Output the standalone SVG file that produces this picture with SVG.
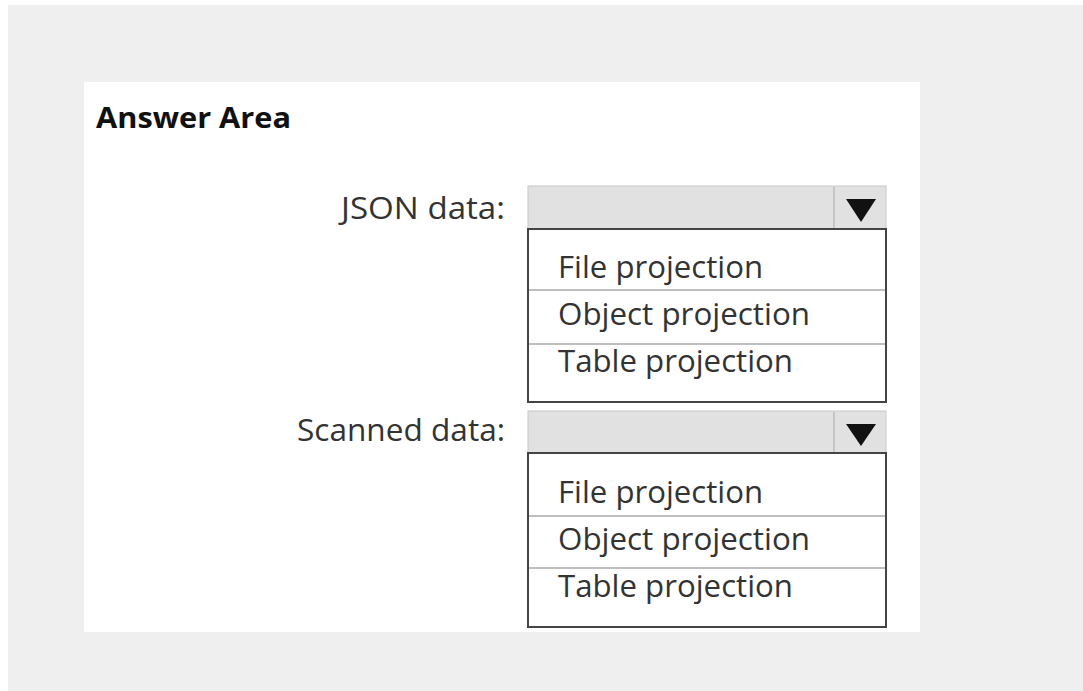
<svg xmlns="http://www.w3.org/2000/svg" width="1083" height="691" viewBox="0 0 1083 691">
<style>
.lbl{font-family:"Open Sans","Noto Sans","Liberation Sans",sans-serif;font-size:31px;fill:#333;}
.opt{font-family:"Open Sans","Noto Sans","Liberation Sans",sans-serif;font-size:31px;fill:#333;}
.hdr{fill:#e1e1e1;stroke:#c8c8c8;stroke-width:1;}
.box{fill:#fff;stroke:#444;stroke-width:2;}
.sep{stroke:#aaa;stroke-width:1.5;}
</style>
<rect x="0" y="0" width="1083" height="691" fill="#ffffff"/>
<rect x="8" y="5" width="1075" height="686" fill="#efefef"/>
<rect x="84" y="82" width="836" height="550" fill="#ffffff"/>
<text x="96" y="128" font-family="'Open Sans','Noto Sans','Liberation Sans',sans-serif" font-size="29" font-weight="bold" fill="#111" textLength="195" lengthAdjust="spacingAndGlyphs">Answer Area</text>
<g id="json">
<text class="lbl" x="505" y="219" text-anchor="end" textLength="164" lengthAdjust="spacingAndGlyphs">JSON data:</text>
<rect class="hdr" x="528" y="186" width="358" height="43"/>
<line x1="834" y1="187" x2="834" y2="229" stroke="#bbb" stroke-width="1.5"/>
<polygon points="846,199 876,199 861,222" fill="#111"/>
<rect class="box" x="528" y="229" width="358" height="173"/>
<line class="sep" x1="529" y1="290" x2="885" y2="290"/>
<line class="sep" x1="529" y1="344" x2="885" y2="344"/>
<text class="opt" x="558" y="278" textLength="205" lengthAdjust="spacingAndGlyphs">File projection</text>
<text class="opt" x="558" y="325" textLength="252" lengthAdjust="spacingAndGlyphs">Object projection</text>
<text class="opt" x="558" y="372" textLength="235" lengthAdjust="spacingAndGlyphs">Table projection</text>
</g>
<g id="scanned">
<text class="lbl" x="505" y="441" text-anchor="end" textLength="208" lengthAdjust="spacingAndGlyphs">Scanned data:</text>
<rect class="hdr" x="528" y="411" width="358" height="42"/>
<line x1="834" y1="412" x2="834" y2="453" stroke="#bbb" stroke-width="1.5"/>
<polygon points="846,424 876,424 861,446" fill="#111"/>
<rect class="box" x="528" y="453" width="358" height="174"/>
<line class="sep" x1="529" y1="516" x2="885" y2="516"/>
<line class="sep" x1="529" y1="568" x2="885" y2="568"/>
<text class="opt" x="558" y="503" textLength="205" lengthAdjust="spacingAndGlyphs">File projection</text>
<text class="opt" x="558" y="550" textLength="252" lengthAdjust="spacingAndGlyphs">Object projection</text>
<text class="opt" x="558" y="597" textLength="235" lengthAdjust="spacingAndGlyphs">Table projection</text>
</g>
<g id="connectors"></g>
</svg>
